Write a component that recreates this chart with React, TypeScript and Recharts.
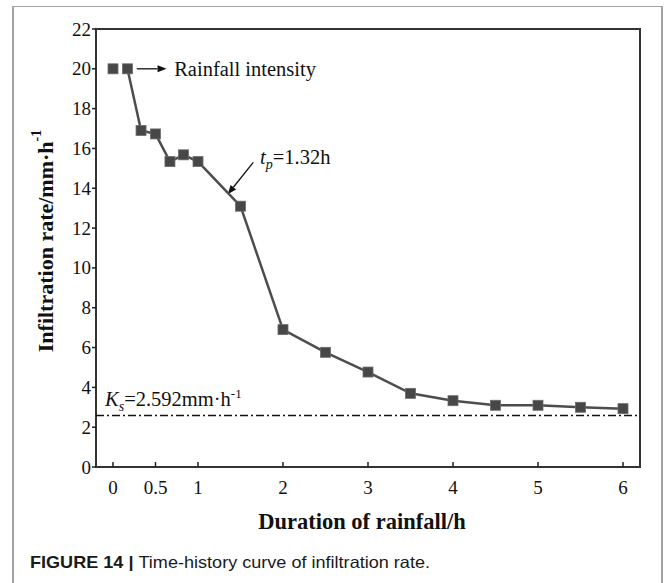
import React from 'react';
import {
  ComposedChart,
  Line,
  Scatter,
  XAxis,
  YAxis,
  ReferenceLine,
  ReferenceArea,
  ReferenceDot,
} from 'recharts';

// infiltration rate (mm/h) against rainfall duration (h)
const durations = [0.17, 0.33, 0.5, 0.67, 0.83, 1, 1.5, 2, 2.5, 3, 3.5, 4, 4.5, 5, 5.5, 6];
const infiltrationRates = [20, 16.9, 16.73, 15.34, 15.68, 15.34, 13.1, 6.9, 5.76, 4.77, 3.7, 3.33, 3.1, 3.1, 3.0, 2.93];

// applied rainfall intensity, a single point at the start
const rainfallTimes = [0];
const rainfallIntensity = [20];

// saturated hydraulic conductivity
const KS = 2.592;

const xTicks = [0, 0.5, 1, 2, 3, 4, 5, 6];
const yTicks = [0, 2, 4, 6, 8, 10, 12, 14, 16, 18, 20, 22];

const rateData = durations.map((t, i) => ({ t, v: infiltrationRates[i] }));
const rainData = rainfallTimes.map((t, i) => ({ t, v: rainfallIntensity[i] }));

const SERIF = '"Liberation Serif", "Times New Roman", serif';
const INK = '#111';

const SquareDot = (props: any) => {
  const { cx, cy } = props;
  if (cx == null || cy == null) return null;
  return (
    <rect x={cx - 5} y={cy - 5} width={10} height={10} fill="#474747" stroke="#6b6b6b" strokeWidth={0.8} />
  );
};

// bottom axis: ticks point into the plot, label below
const XTick = (props: any) => {
  const { x, y, payload } = props;
  return (
    <g>
      <line x1={x} x2={x} y1={y} y2={y - 5} stroke="#222" strokeWidth={1.5} />
      <text x={x} y={y + 27} textAnchor="middle" fontFamily={SERIF} fontSize={19} fill={INK}>
        {payload.value}
      </text>
    </g>
  );
};

// left axis: ticks point outward, label right-aligned next to them
const YTick = (props: any) => {
  const { x, y, payload } = props;
  return (
    <g>
      <line x1={x} x2={x + 4} y1={y} y2={y} stroke="#222" strokeWidth={1.5} />
      <text x={x - 1} y={y} textAnchor="end" dominantBaseline="central" fontFamily={SERIF} fontSize={19} fill={INK}>
        {payload.value}
      </text>
    </g>
  );
};

const Arrow = (props: any) => {
  const { x1, y1, x2, y2 } = props;
  if (x1 == null) return null;
  const a = Math.atan2(y2 - y1, x2 - x1);
  const len = 9;
  const half = 3.5;
  const bx = x2 - len * Math.cos(a);
  const by = y2 - len * Math.sin(a);
  const px = -Math.sin(a) * half;
  const py = Math.cos(a) * half;
  return (
    <g>
      <line x1={x1} y1={y1} x2={bx} y2={by} stroke={INK} strokeWidth={1.3} />
      <polygon points={`${x2},${y2} ${bx + px},${by + py} ${bx - px},${by - py}`} fill={INK} />
    </g>
  );
};

const YTitle = (props: any) => {
  const { viewBox } = props;
  const cx = viewBox.x + 9;
  const cy = viewBox.y + viewBox.height / 2 - 7;
  return (
    <text
      x={cx}
      y={cy}
      transform={`rotate(-90 ${cx} ${cy})`}
      textAnchor="middle"
      dominantBaseline="central"
      fontFamily={SERIF}
      fontSize={22}
      fontWeight={700}
      fill={INK}
    >
      Infiltration rate/mm·h
      <tspan dy={-9} fontSize={14}>-1</tspan>
    </text>
  );
};

const XTitle = (props: any) => {
  const { viewBox } = props;
  return (
    <text
      x={viewBox.x + viewBox.width / 2 - 6}
      y={viewBox.y + 62}
      textAnchor="middle"
      fontFamily={SERIF}
      fontSize={22.5}
      fontWeight={700}
      fill={INK}
    >
      Duration of rainfall/h
    </text>
  );
};

const RainfallText = (props: any) => (
  <text x={props.cx} y={props.cy + 7.5} fontFamily={SERIF} fontSize={20.5} fill={INK}>
    Rainfall intensity
  </text>
);

const PondingText = (props: any) => (
  <text x={props.cx} y={props.cy} fontFamily={SERIF} fontSize={20.5} fill={INK}>
    <tspan fontStyle="italic">t</tspan>
    <tspan dy={5} fontSize={14} fontStyle="italic">p</tspan>
    <tspan dy={-5}>=1.32h</tspan>
  </text>
);

const KsText = (props: any) => (
  <text x={props.cx} y={props.cy} fontFamily={SERIF} fontSize={20.5} fill={INK}>
    <tspan fontStyle="italic">K</tspan>
    <tspan dy={5} fontSize={14} fontStyle="italic">s</tspan>
    <tspan dy={-5}>={KS}mm·h</tspan>
    <tspan dy={-8} fontSize={13}>-1</tspan>
  </text>
);

export default function App() {
  return (
    <div style={{ position: 'absolute', left: 0, top: 0, width: 665, height: 583, background: '#fff', overflow: 'hidden' }}>
      {/* gray page frame around figure and caption */}
      <div
        style={{
          position: 'absolute',
          left: 12,
          top: 6,
          width: 647,
          height: 620,
          borderTop: '1.5px solid #a3a3a3',
          borderLeft: '2px solid #a3a3a3',
          borderRight: '2px solid #a3a3a3',
        }}
      />
      <div style={{ position: 'absolute', left: 0, top: 0 }}>
        <ComposedChart width={665} height={583} margin={{ top: 29, right: 25, bottom: 86, left: 36 }}>
          <XAxis
            dataKey="t"
            type="number"
            domain={[-0.2, 6.2]}
            ticks={xTicks}
            allowDataOverflow
            axisLine={false}
            tickLine={false}
            tickSize={0}
            tickMargin={0}
            height={30}
            interval={0}
            tick={<XTick />}
            label={{ content: <XTitle /> }}
          />
          <YAxis
            type="number"
            domain={[0, 22]}
            ticks={yTicks}
            allowDataOverflow
            width={60}
            axisLine={false}
            tickLine={false}
            tickSize={4}
            tickMargin={0}
            interval={0}
            tick={<YTick />}
            label={{ content: <YTitle /> }}
          />
          <ReferenceArea x1={-0.2} x2={6.2} y1={0} y2={22} fill="none" stroke="#333" strokeWidth={2} />
          <ReferenceLine y={KS} stroke={INK} strokeWidth={1.5} strokeDasharray="8 3 2 3" />
          <ReferenceDot x={-0.094} y={3.06} r={0} shape={<KsText />} />
          <ReferenceLine segment={[{ x: 0.28, y: 20 }, { x: 0.63, y: 20 }]} shape={<Arrow />} />
          <ReferenceDot x={0.72} y={20} r={0} shape={<RainfallText />} />
          <ReferenceLine segment={[{ x: 1.65, y: 15.3 }, { x: 1.35, y: 13.7 }]} shape={<Arrow />} />
          <ReferenceDot x={1.73} y={15.22} r={0} shape={<PondingText />} />
          <Line
            data={rateData}
            dataKey="v"
            stroke="#4d4d4d"
            strokeWidth={2.5}
            dot={<SquareDot />}
            activeDot={false}
            isAnimationActive={false}
          />
          <Scatter data={rainData} dataKey="v" shape={<SquareDot />} isAnimationActive={false} />
        </ComposedChart>
      </div>
      <svg width={665} height={583} style={{ position: 'absolute', left: 0, top: 0, pointerEvents: 'none' }}>
        <text
          x={30}
          y={568}
          fontFamily='"Liberation Sans", Arial, sans-serif'
          fontSize={16.5}
          fill="#1a1a1a"
          textLength={400}
          lengthAdjust="spacingAndGlyphs"
        >
          <tspan fontWeight={700}>FIGURE 14 | </tspan>
          <tspan>Time-history curve of infiltration rate.</tspan>
        </text>
      </svg>
    </div>
  );
}
